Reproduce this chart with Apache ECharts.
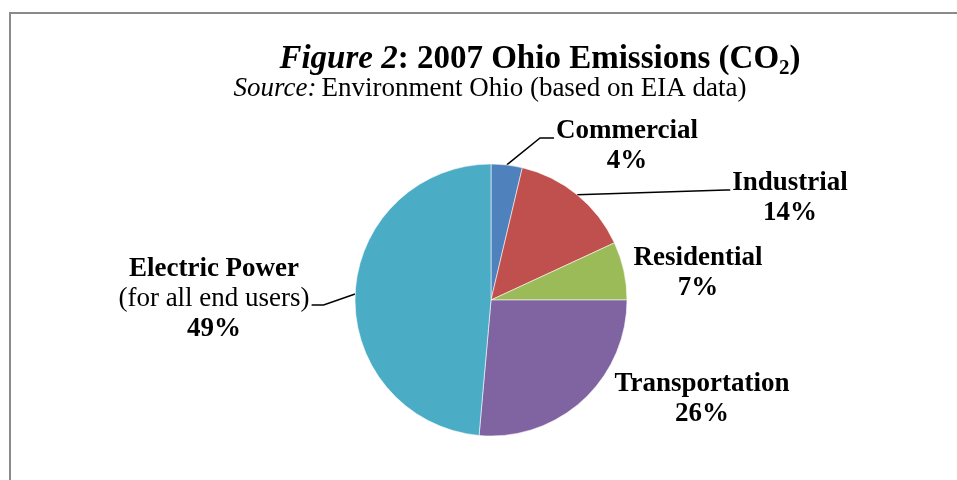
<!DOCTYPE html>
<html>
<head>
<meta charset="utf-8">
<script src="https://cdn.jsdelivr.net/npm/echarts@6/dist/echarts.min.js"></script>
<style>
html,body{margin:0;padding:0;background:#fff;}
#chart{width:957px;height:480px;}
</style>
</head>
<body>
<div id="chart"></div>
<script>
// ---- data ----
const categories = ['Commercial', 'Industrial', 'Residential', 'Transportation', 'Electric Power'];
const shares = [3.7, 14.4, 6.9, 26.4, 48.6];
const notes = ['', '', '', '', '(for all end users)'];

// ---- styles / layout ----
const colors = ['#4F81BD', '#C0504D', '#9BBB59', '#8064A2', '#4BACC6'];
const labelSpots = [[627, 146], [790, 198], [698, 273], [702, 399], [214, 299]];
const leaderSide = ['left', 'left', null, null, 'right'];
const leaderY = [138, 190, null, null, 305];
const leaderRun = [14, 4, 0, 0, 12];
const FONT = '"Liberation Serif", "DejaVu Serif", serif';

const chart = echarts.init(document.getElementById('chart'), null, {renderer: 'canvas'});

const data = categories.map((name, i) => ({
  name: name,
  value: shares[i],
  itemStyle: {color: colors[i]},
  labelLine: {show: !!leaderSide[i]}
}));

const option = {
  backgroundColor: '#ffffff',
  animation: false,
  graphic: [{
    type: 'rect',
    shape: {x: 10, y: 13, width: 1200, height: 1000},
    style: {fill: 'none', stroke: '#8a8a8a', lineWidth: 2},
    silent: true,
    z: -1
  }],
  title: [{
    text: '{i|Figure 2}{b|: 2007 Ohio Emissions (CO}{s|2}{b|)}',
    left: 535,
    top: 34,
    textAlign: 'center',
    textStyle: {
      rich: {
        i: {fontFamily: FONT, fontSize: 33, fontWeight: 'bold', fontStyle: 'italic', color: '#000', lineHeight: 40},
        b: {fontFamily: FONT, fontSize: 33, fontWeight: 'bold', color: '#000', lineHeight: 40},
        s: {fontFamily: FONT, fontSize: 21, fontWeight: 'bold', color: '#000', lineHeight: 19, verticalAlign: 'bottom'}
      }
    }
  }, {
    text: '{i|Source:} {r|Environment Ohio (based on EIA data)}',
    left: 485,
    top: 69,
    textAlign: 'center',
    textStyle: {
      fontWeight: 'normal',
      rich: {
        i: {fontFamily: FONT, fontSize: 27, fontWeight: 'normal', fontStyle: 'italic', color: '#000', lineHeight: 30},
        r: {fontFamily: FONT, fontSize: 27, fontWeight: 'normal', color: '#000', lineHeight: 30}
      }
    }
  }],
  series: [{
    type: 'pie',
    center: [491, 300],
    radius: 136,
    startAngle: 90,
    clockwise: true,
    avoidLabelOverlap: false,
    itemStyle: {borderColor: 'rgba(255,255,255,0.7)', borderWidth: 0.8},
    label: {
      show: true,
      position: 'outside',
      color: '#000',
      formatter: function (p) {
        const pct = Math.round(p.percent) + '%';
        const note = notes[p.dataIndex];
        return note
          ? '{b|' + p.name + '}\n{r|' + note + '}\n{b|' + pct + '}'
          : '{b|' + p.name + '}\n{b|' + pct + '}';
      },
      rich: {
        b: {fontFamily: FONT, fontSize: 27, fontWeight: 'bold', color: '#000', lineHeight: 30, align: 'center'},
        r: {fontFamily: FONT, fontSize: 27, fontWeight: 'normal', color: '#000', lineHeight: 30, align: 'center'}
      }
    },
    labelLine: {
      show: true,
      length: 20,
      length2: 10,
      lineStyle: {color: '#000', width: 1.5}
    },
    labelLayout: function (params) {
      const i = params.dataIndex;
      const s = labelSpots[i];
      const out = {x: s[0], y: s[1], align: 'center', verticalAlign: 'middle'};
      const pts = params.labelLinePoints;
      if (leaderSide[i] && pts && pts.length) {
        const w = params.labelRect.width;
        const dir = leaderSide[i] === 'left' ? -1 : 1;
        const ex = s[0] + dir * (w / 2 + 2);
        out.labelLinePoints = [pts[0], [ex + dir * leaderRun[i], leaderY[i]], [ex, leaderY[i]]];
      }
      return out;
    },
    emphasis: {disabled: true},
    data: data
  }]
};

chart.setOption(option);
</script>
</body>
</html>
